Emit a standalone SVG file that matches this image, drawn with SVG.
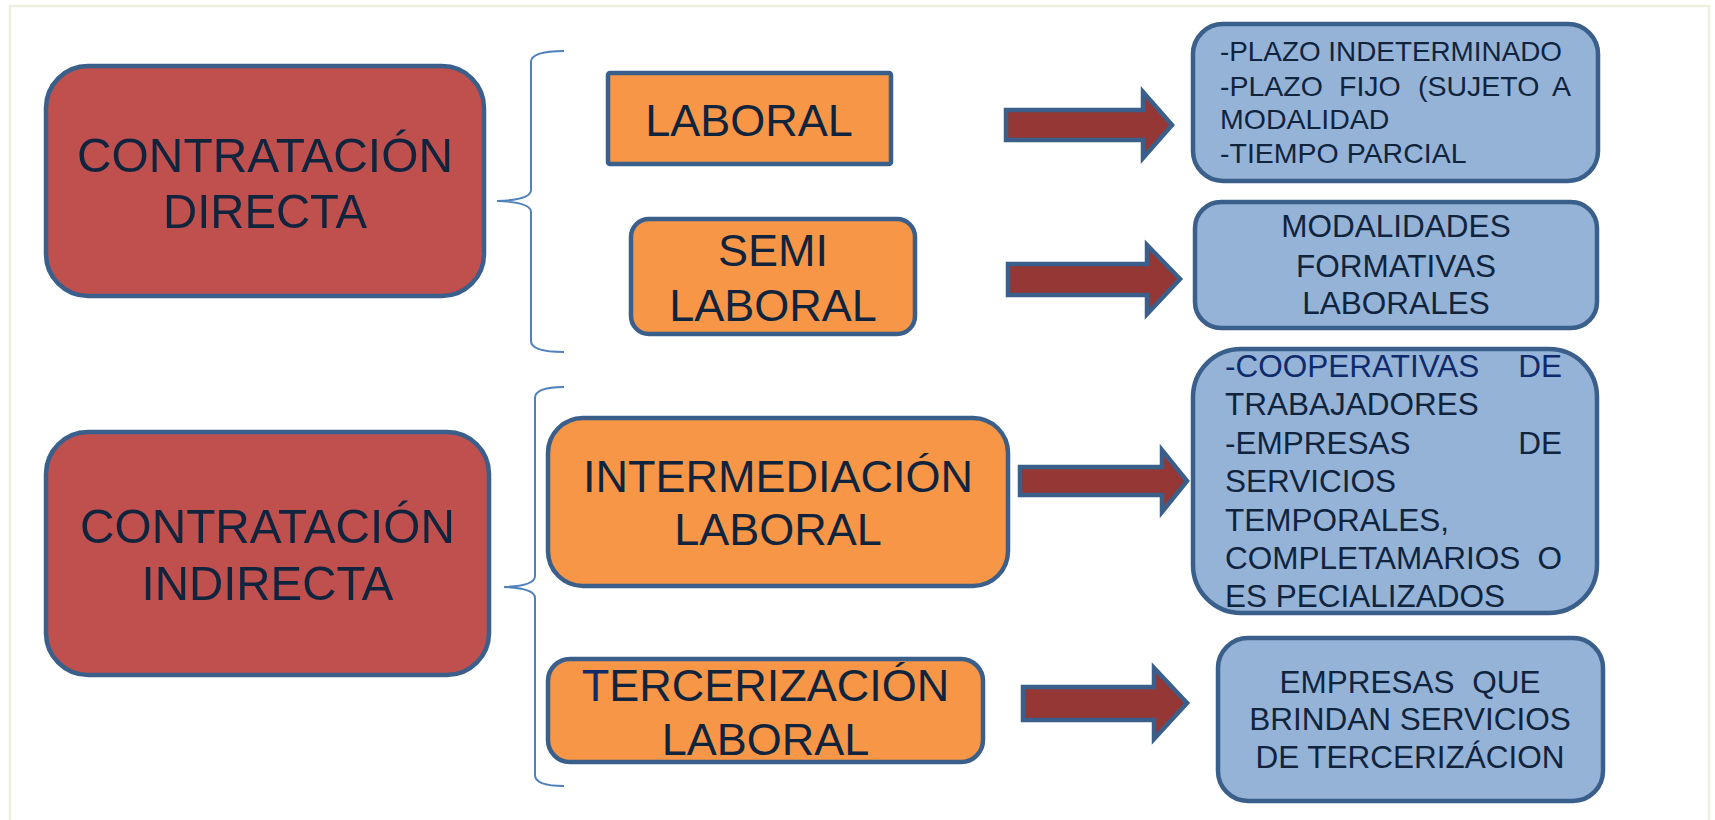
<svg xmlns="http://www.w3.org/2000/svg" width="1715" height="820" viewBox="0 0 1715 820">
<style>
text{font-family:"Liberation Sans",Arial,sans-serif;fill:#10243e}
.red{fill:#c0504d;stroke:#3a5f8b;stroke-width:4.5}
.org{fill:#f79646;stroke:#3a5f8b;stroke-width:4.5}
.blu{fill:#95b3d7;stroke:#3a5f8b;stroke-width:4.5}
.arr{fill:#953735;stroke:#3a5f8b;stroke-width:4.5;stroke-linejoin:miter}
.brace{fill:none;stroke:#4f81bd;stroke-width:2}
.big{font-size:49px;text-anchor:middle}
.mid{font-size:45px;text-anchor:middle}
.sm{font-size:28.5px}
.bl{font-size:31.5px}
.c{text-anchor:middle}
.nv{fill:#0f2b6b}
</style>
<rect x="0" y="0" width="1715" height="820" fill="#ffffff"/>
<rect x="10" y="6" width="1699" height="840" fill="none" stroke="#eef0df" stroke-width="2.5"/>

<g id="contratacion-directa">
<rect class="red" x="46" y="66" width="438" height="230" rx="42"/>
<text class="big" x="265" y="172" textLength="376" lengthAdjust="spacingAndGlyphs">CONTRATACIÓN</text>
<text class="big" x="265" y="228" textLength="204" lengthAdjust="spacingAndGlyphs">DIRECTA</text>
</g>
<g id="contratacion-indirecta">
<rect class="red" x="46" y="432" width="443" height="243" rx="42"/>
<text class="big" x="267.5" y="543" textLength="375" lengthAdjust="spacingAndGlyphs">CONTRATACIÓN</text>
<text class="big" x="267.5" y="600" textLength="252" lengthAdjust="spacingAndGlyphs">INDIRECTA</text>
</g>
<g id="laboral">
<rect class="org" x="608" y="73" width="283" height="91" rx="2"/>
<text class="mid" x="749" y="136">LABORAL</text>
</g>
<g id="semi-laboral">
<rect class="org" x="631" y="219" width="284" height="115" rx="18"/>
<text class="mid" x="773" y="266">SEMI</text>
<text class="mid" x="773" y="321">LABORAL</text>
</g>
<g id="intermediacion">
<rect class="org" x="548" y="418" width="460" height="168" rx="35"/>
<text class="mid" x="778" y="492">INTERMEDIACIÓN</text>
<text class="mid" x="778" y="545">LABORAL</text>
</g>
<g id="tercerizacion">
<rect class="org" x="548" y="659" width="435" height="103" rx="22"/>
<text class="mid" x="765.5" y="701"><tspan class="nv">T</tspan>ERCERIZACIÓN</text>
<text class="mid" x="765.5" y="755">LABORAL</text>
</g>
<g id="plazos">
<rect class="blu" x="1193" y="24" width="405" height="157" rx="30"/>
<text class="sm" x="1220" y="61" textLength="342" lengthAdjust="spacingAndGlyphs">-PLAZO INDETERMINADO</text>
<text class="sm" y="96"><tspan x="1220">-PLAZO</tspan><tspan x="1339">FIJO</tspan><tspan x="1418">(SUJETO</tspan><tspan x="1552">A</tspan></text>
<text class="sm" x="1220" y="129">MODALIDAD</text>
<text class="sm" x="1220" y="163">-TIEMPO PARCIAL</text>
</g>
<g id="modalidades">
<rect class="blu" x="1195" y="202" width="402" height="126" rx="26"/>
<text class="bl c" x="1396" y="237">MODALIDADES</text>
<text class="bl c" x="1396" y="277">FORMATIVAS</text>
<text class="bl c" x="1396" y="314">LABORALES</text>
</g>
<g id="cooperativas">
<rect class="blu" x="1193" y="349" width="404" height="264" rx="48"/>
<text class="bl nv" y="377"><tspan x="1225">-COOPERATIVAS</tspan><tspan x="1562" text-anchor="end">DE</tspan></text>
<text class="bl" x="1225" y="415">TRABAJADORES</text>
<text class="bl" y="454"><tspan x="1225">-EMPRESAS</tspan><tspan x="1562" text-anchor="end">DE</tspan></text>
<text class="bl" x="1225" y="492">SERVICIOS</text>
<text class="bl" x="1225" y="531">TEMPORALES,</text>
<text class="bl" y="569"><tspan x="1225">COMPLETAMARIOS</tspan><tspan x="1562" text-anchor="end">O</tspan></text>
<text class="bl" x="1225" y="607">ES PECIALIZADOS</text>
</g>
<g id="empresas-tercerizacion">
<rect class="blu" x="1218" y="638" width="385" height="163" rx="30"/>
<text class="bl c" x="1410" y="693" xml:space="preserve">EMPRESAS  QUE</text>
<text class="bl c" x="1410" y="730">BRINDAN SERVICIOS</text>
<text class="bl c" x="1410" y="768">DE TERCERIZÁCION</text>
</g>

<g id="connectors">
<path class="brace" d="M564,51 Q531,51 531,62 L531,190 Q531,200 497,201 Q531,202 531,212 L531,341 Q531,352 564,352"/>
<path class="brace" d="M564,387 Q535,387 535,398 L535,576 Q535,586 504,587 Q535,588 535,598 L535,775 Q535,786 564,786"/>
<path class="arr" d="M1006,110 L1143,110 L1143,92 L1172,125 L1143,158 L1143,140 L1006,140 Z"/>
<path class="arr" d="M1008,264 L1147,264 L1147,245 L1180,279 L1147,314 L1147,295 L1008,295 Z"/>
<path class="arr" d="M1020,467 L1162,467 L1162,450 L1187,481 L1162,512 L1162,495 L1020,495 Z"/>
<path class="arr" d="M1023,687 L1154,687 L1154,668 L1187,703 L1154,739 L1154,720 L1023,720 Z"/>
</g>
</svg>
